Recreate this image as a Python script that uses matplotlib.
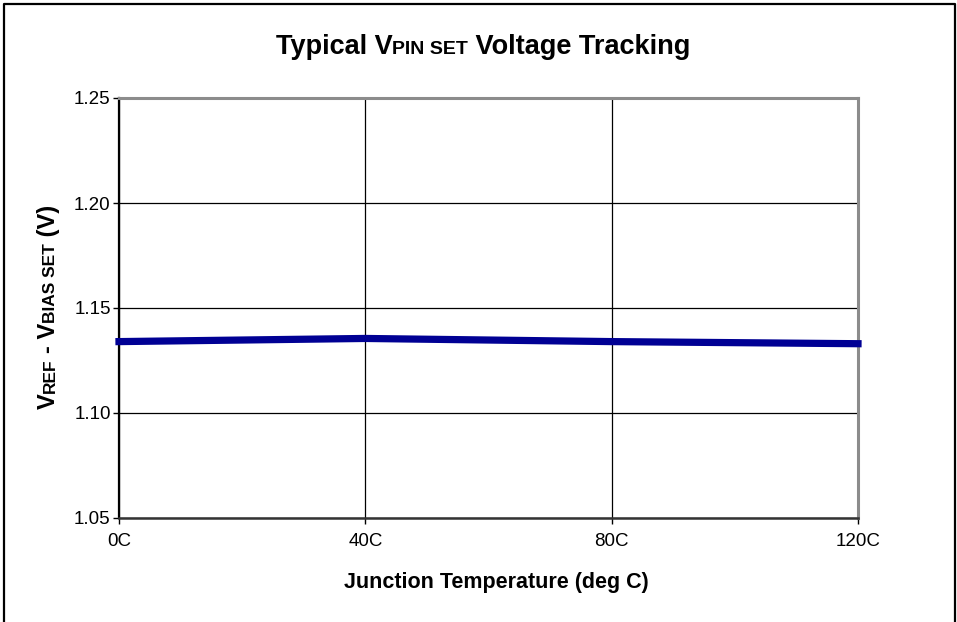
import matplotlib
matplotlib.use('Agg')
import matplotlib.pyplot as plt
from matplotlib.lines import Line2D

# ---- data ----
temps = [0, 40, 80, 120]
temp_labels = ['0C', '40C', '80C', '120C']
vdiff = [1.134, 1.1355, 1.134, 1.133]
yticks = [1.05, 1.10, 1.15, 1.20, 1.25]
ytick_labels = ['1.05', '1.10', '1.15', '1.20', '1.25']

plt.rcParams['font.family'] = ['Liberation Sans', 'DejaVu Sans']

W, H = 957, 622
fig = plt.figure(figsize=(W / 100, H / 100), dpi=100)
fig.patch.set_facecolor('white')

L, R, T, B = 119, 858, 98, 518
ax = fig.add_axes([L / W, 1 - B / H, (R - L) / W, (B - T) / H])

ax.plot(temps, vdiff, color='#000094', lw=5.2, solid_capstyle='projecting',
        clip_on=False, zorder=5)
ax.set_xlim(0, 120)
ax.set_ylim(1.05, 1.25)
ax.set_xticks(temps)
ax.set_xticklabels(temp_labels)
ax.set_yticks(yticks)
ax.set_yticklabels(ytick_labels)
ax.grid(True, color='black', lw=0.9)
ax.set_axisbelow(True)
ax.tick_params(axis='both', direction='out', length=4, width=1, labelsize=13.5,
               color='black')
ax.tick_params(axis='x', pad=7)
ax.tick_params(axis='y', pad=2)
ax.spines['left'].set_color('black')
ax.spines['left'].set_linewidth(1.6)
ax.spines['bottom'].set_color('#333333')
ax.spines['bottom'].set_linewidth(1.8)
ax.spines['top'].set_color('#8c8c8c')
ax.spines['top'].set_linewidth(2.2)
ax.spines['right'].set_color('#8c8c8c')
ax.spines['right'].set_linewidth(2.2)

# figure border (left, top, right)
bx0, bx1, by = 3.5 / W, 955 / W, 1 - 3.5 / H
fig.add_artist(Line2D([bx0, bx0, bx1, bx1], [0, by, by, 0],
                      transform=fig.transFigure, color='black', lw=1.6))

renderer = fig.canvas.get_renderer()


def seg_text(segs, x, y, rotation=0):
    """Draw text segments (text, size, extra_gap_px) centred at x,y px."""
    widths = []
    for s, size, gap in segs:
        t = fig.text(0, 0, s, fontsize=size, fontweight='bold')
        widths.append(t.get_window_extent(renderer).width + gap)
        t.remove()
    total = sum(widths)
    if rotation == 0:
        pos = x - total / 2
        for (s, size, gap), w in zip(segs, widths):
            pos += gap
            fig.text(pos / W, 1 - y / H, s, fontsize=size, fontweight='bold',
                     ha='left', va='baseline')
            pos += w - gap
    else:
        pos = y + total / 2
        for (s, size, gap), w in zip(segs, widths):
            pos -= gap
            fig.text(x / W, 1 - pos / H, s, fontsize=size, fontweight='bold',
                     ha='left', va='baseline', rotation=90,
                     rotation_mode='anchor')
            pos -= w - gap


seg_text([('Typical V', 19.5, 0), ('PIN SET', 14, 0),
          (' Voltage Tracking', 19.5, 0)], 483, 54)
seg_text([('V', 17, 0), ('REF', 12.5, 0), ('- V', 17, 5), ('BIAS SET', 12.5, 0),
          (' (V)', 17, 0)], 55, 307, rotation=90)
fig.text(496 / W, 1 - 588 / H, 'Junction Temperature (deg C)', fontsize=15.5,
         fontweight='bold', ha='center', va='baseline')

fig.savefig('out.png', dpi=100, facecolor='white')
